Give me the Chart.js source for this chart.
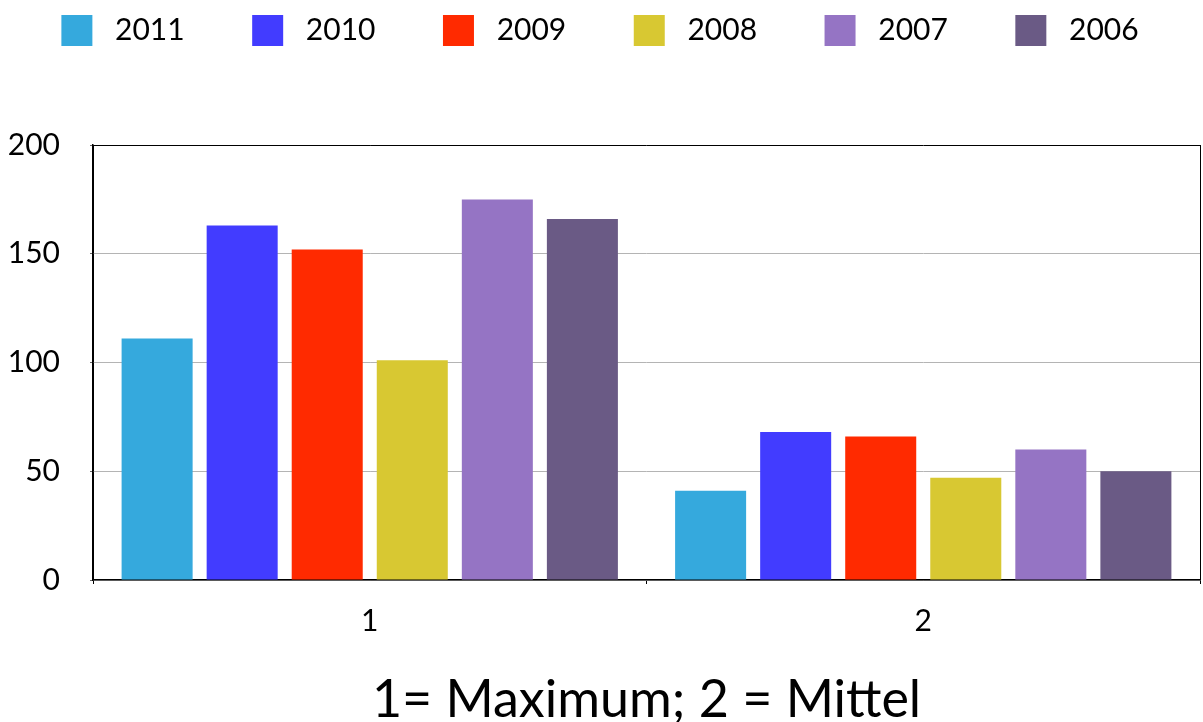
<!DOCTYPE html>
<html>
<head>
<meta charset="utf-8">
<script src="https://cdn.jsdelivr.net/npm/chart.js@4.4.1/dist/chart.umd.min.js"></script>
<style>
  html, body { margin: 0; padding: 0; background: #ffffff; }
  #wrap { width: 1203px; height: 722px; position: relative; }
</style>
</head>
<body>
<div id="wrap"><canvas id="chart" width="1203" height="722"></canvas></div>
<script>
// Categories on the x axis (1 = Maximum, 2 = Mittel)
const categories = ['1', '2'];

// One series per year
const years = ['2011', '2010', '2009', '2008', '2007', '2006'];
const values2011 = [111, 41];
const values2010 = [163, 68];
const values2009 = [152, 66];
const values2008 = [101, 47];
const values2007 = [175, 60];
const values2006 = [166, 50];

const yearColors = ['#35a9dd', '#423cff', '#ff2a00', '#d8c832', '#9574c4', '#6a5a85'];

const yTicks = [0, 50, 100, 150, 200];
const axisTitle = '1= Maximum; 2 = Mittel';

const FONT = 'Lato, "Open Sans", "DejaVu Sans", sans-serif';
const LEGEND_FONT_SIZE = 30;
const LEGEND_ITEM_PITCH = 192.5;

const seriesValues = [values2011, values2010, values2009, values2008, values2007, values2006];

const datasets = years.map((y, i) => ({
  label: y,
  data: seriesValues[i],
  backgroundColor: yearColors[i],
  borderWidth: 0,
  categoryPercentage: 0.922,
  barPercentage: 0.835
}));

// Fixed legend band height so the plot starts lower on the page
const legendBand = {
  id: 'legendBand',
  beforeInit(chart) {
    const fit = chart.legend.fit;
    chart.legend.fit = function () {
      fit.bind(chart.legend)();
      this.height = 140;
    };
  }
};

// Pads legend texts so the items sit on an even pitch
function legendLabels(chart) {
  const ctx = chart.ctx;
  ctx.save();
  ctx.font = `normal ${LEGEND_FONT_SIZE}px ${FONT}`;
  const boxW = 31, gap = LEGEND_FONT_SIZE / 2, pad = 10;
  const items = chart.data.datasets.map((ds, i) => {
    let text = ' ' + ds.label;
    if (i < chart.data.datasets.length - 1) {
      const target = LEGEND_ITEM_PITCH - boxW - gap - pad;
      while (ctx.measureText(text + ' ').width <= target) text += ' ';
      while (ctx.measureText(text + '\u200A').width <= target) text += '\u200A';
    }
    return {
      text,
      fillStyle: ds.backgroundColor,
      strokeStyle: ds.backgroundColor,
      lineWidth: 0,
      hidden: false,
      datasetIndex: i
    };
  });
  ctx.restore();
  return items;
}

new Chart(document.getElementById('chart'), {
  type: 'bar',
  data: { labels: categories, datasets },
  plugins: [legendBand],
  options: {
    responsive: false,
    animation: false,
    layout: { padding: { left: 0, right: 3, top: 5, bottom: 0 } },
    plugins: {
      tooltip: { enabled: false },
      legend: {
        position: 'top',
        labels: {
          boxWidth: 31,
          boxHeight: 31,
          padding: 10,
          color: '#000',
          font: { family: FONT, size: LEGEND_FONT_SIZE },
          generateLabels: legendLabels
        }
      }
    },
    scales: {
      x: {
        grid: {
          offset: true,
          color: (ctx) => (ctx.index === 1 ? 'rgba(0,0,0,0)' : '#000'),
          tickColor: '#000',
          tickLength: 4,
          lineWidth: 1
        },
        border: { display: true, color: '#000', width: 1.5 },
        ticks: {
          color: '#000',
          padding: 19,
          font: { family: FONT, size: 30 }
        },
        title: {
          display: true,
          text: axisTitle,
          color: '#000',
          font: { family: FONT, size: 52, lineHeight: 1.0 },
          padding: { top: 16, bottom: -4 }
        }
      },
      y: {
        min: 0,
        max: 200,
        afterBuildTicks(axis) {
          axis.ticks = yTicks.map(v => ({ value: v }));
        },
        afterFit(axis) {
          axis.width = 93;
        },
        grid: {
          color: (ctx) => (ctx.tick && ctx.tick.value === 200 ? '#000' : '#b4b4b4'),
          tickColor: '#666',
          tickLength: 3,
          lineWidth: 1
        },
        border: { display: true, color: '#000', width: 1.5 },
        ticks: {
          color: '#000',
          padding: 30,
          font: { family: FONT, size: 30 }
        }
      }
    }
  }
});
</script>
</body>
</html>
